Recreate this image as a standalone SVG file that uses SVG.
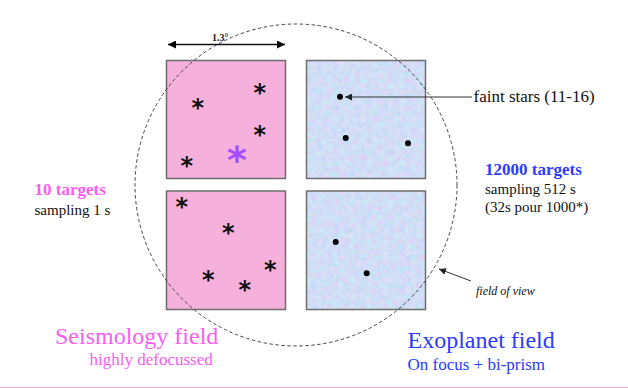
<svg xmlns="http://www.w3.org/2000/svg" width="628" height="388" viewBox="0 0 628 388">
<style>
.serif{font-family:"Liberation Serif","Times New Roman",serif;}
.box{stroke:#6e6e6e;stroke-width:1.5;}
.pink{fill:#f5b0dc;}
.star{font-family:"DejaVu Sans",sans-serif;font-weight:bold;font-size:24px;text-anchor:middle;fill:#111;}
.bigstar{font-family:"DejaVu Sans",sans-serif;font-weight:bold;font-size:38px;text-anchor:middle;fill:#a64cff;}
.dot{fill:#000;}
.conn{stroke:#333;stroke-width:1;fill:none;}
</style>
<defs>
<filter id="tex" x="0" y="0" width="1" height="1" filterUnits="objectBoundingBox" color-interpolation-filters="sRGB">
<feTurbulence type="fractalNoise" baseFrequency="0.18" numOctaves="3" seed="7" result="n"/>
<feColorMatrix in="n" type="matrix" values="0.22 0 0 0 0.71  -0.08 0.14 0 0 0.84  0 0 0.05 0 0.94  0 0 0 0 1" result="c"/>
<feComposite in="c" in2="SourceGraphic" operator="in"/>
</filter>
<marker id="ah" viewBox="0 0 10 10" refX="10" refY="5" markerWidth="7" markerHeight="7" orient="auto-start-reverse" markerUnits="userSpaceOnUse">
<path d="M0,0 L10,5 L0,10 z" fill="#222"/>
</marker>
<marker id="ahb" viewBox="0 0 10 10" refX="10" refY="5" markerWidth="9" markerHeight="8" orient="auto-start-reverse" markerUnits="userSpaceOnUse">
<path d="M0,0 L10,5 L0,10 z" fill="#000"/>
</marker>
</defs>
<rect width="628" height="388" fill="#fff"/>

<g id="seismology-top">
<rect class="pink box" x="166.5" y="60.5" width="119" height="118"/>
<text class="star" x="197.7" y="116.3">*</text>
<text class="star" x="259.7" y="100.7">*</text>
<text class="star" x="259.7" y="142.7">*</text>
<text class="star" x="186.7" y="174">*</text>
<text class="bigstar" x="237" y="173">*</text>
</g>
<g id="seismology-bottom">
<rect class="pink box" x="166.5" y="191" width="119" height="118.5"/>
<text class="star" x="181.7" y="214.7">*</text>
<text class="star" x="228.3" y="241.3">*</text>
<text class="star" x="270.3" y="278">*</text>
<text class="star" x="208.3" y="288">*</text>
<text class="star" x="244.7" y="297.7">*</text>
</g>
<g id="exoplanet-top">
<rect x="306.5" y="60.5" width="119" height="118" fill="#d2e0f6"/>
<rect x="306.5" y="60.5" width="119" height="118" fill="#fff" filter="url(#tex)"/>
<rect class="box" x="306.5" y="60.5" width="119" height="118" fill="none"/>
<circle class="dot" cx="340" cy="96.7" r="3"/>
<circle class="dot" cx="345.7" cy="138" r="3"/>
<circle class="dot" cx="408" cy="143.3" r="3"/>
</g>
<g id="exoplanet-bottom">
<rect x="306.5" y="191" width="119" height="118.5" fill="#d2e0f6"/>
<rect x="306.5" y="191" width="119" height="118.5" fill="#fff" filter="url(#tex)"/>
<rect class="box" x="306.5" y="191" width="119" height="118.5" fill="none"/>
<circle class="dot" cx="335.7" cy="242" r="3"/>
<circle class="dot" cx="366.7" cy="273.3" r="3"/>
</g>

<g id="field-of-view">
<circle cx="296" cy="185" r="161" fill="none" stroke="#444" stroke-width="1" stroke-dasharray="3.5,2.5"/>
</g>

<g id="connectors">
<line x1="168" y1="44.5" x2="285" y2="44.5" stroke="#111" stroke-width="1.3" marker-start="url(#ahb)" marker-end="url(#ahb)"/>
<line class="conn" x1="472" y1="97" x2="345" y2="97" marker-end="url(#ah)"/>
<line class="conn" x1="471" y1="281" x2="439" y2="269" marker-end="url(#ah)"/>
</g>

<g id="labels">
<text class="serif" x="212" y="41" font-size="10" font-weight="bold" fill="#222">1.3°</text>
<text class="serif" x="473.5" y="102" font-size="17" fill="#111">faint stars (11-16)</text>
<text class="serif" x="485" y="175" font-size="17" font-weight="bold" fill="#2a3cff">12000 targets</text>
<text class="serif" x="485" y="194" font-size="15" fill="#111">sampling 512 s</text>
<text class="serif" x="485" y="212" font-size="15" fill="#111">(32s pour 1000*)</text>
<text class="serif" x="34.5" y="194.5" font-size="17" font-weight="bold" fill="#f75ef0">10 targets</text>
<text class="serif" x="34.5" y="215" font-size="15" fill="#111">sampling 1 s</text>
<text class="serif" x="476" y="295" font-size="12" font-style="italic" fill="#111">field of view</text>
<text class="serif" x="55" y="343.5" font-size="24" fill="#f75ef0">Seismology field</text>
<text class="serif" x="89.5" y="365" font-size="17" fill="#f75ef0">highly defocussed</text>
<text class="serif" x="407.5" y="347.5" font-size="24" fill="#2a3cff">Exoplanet field</text>
<text class="serif" x="407.5" y="370" font-size="17" fill="#2a3cff">On focus + bi-prism</text>
</g>
<line x1="0" y1="387.5" x2="628" y2="387.5" stroke="#f4b2da" stroke-width="1"/>
</svg>
